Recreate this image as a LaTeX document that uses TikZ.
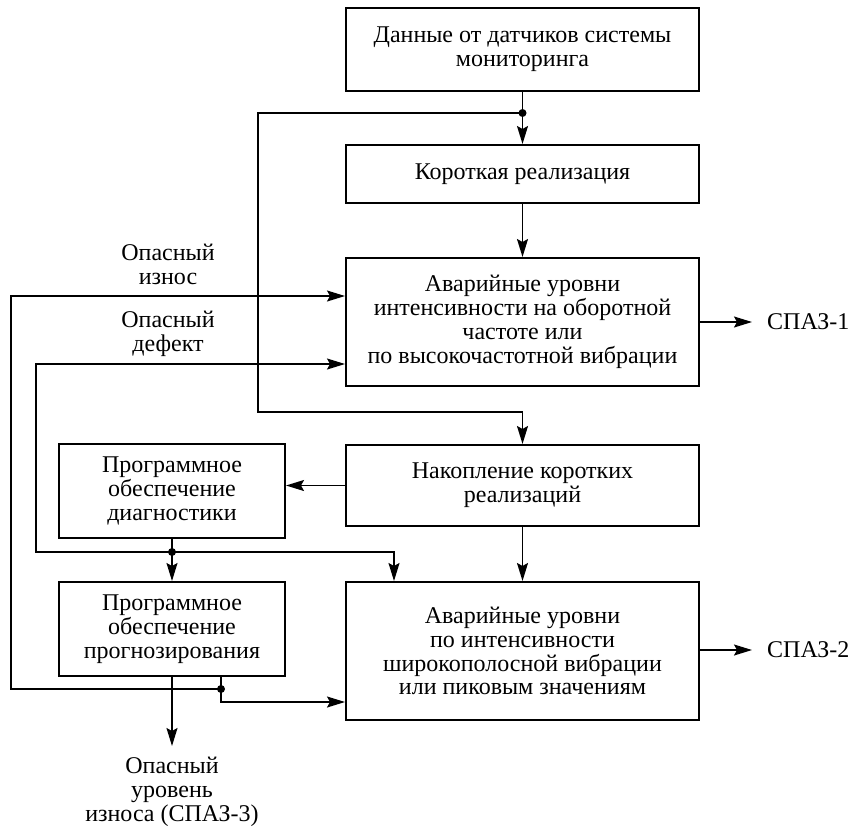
\documentclass[tikz,border=0pt]{standalone}
\usepackage{fontspec}
\setmainfont{Liberation Serif}
\usetikzlibrary{arrows.meta,calc}
\begin{document}
\begin{tikzpicture}[x=1pt,y=-1pt,
  box/.style={draw,line width=2pt,align=center,inner sep=0pt,font=\fontsize{24}{23.8}\selectfont},
  wide/.style={box,minimum width=353pt},
  narrow/.style={box,minimum width=226pt},
  lbl/.style={align=center,inner sep=0pt,font=\fontsize{24}{23.8}\selectfont},
  arr/.style={line width=1.5pt,-{Stealth[length=18pt,width=11pt,inset=3pt]}},
  dot/.style={fill,radius=4pt}]
\useasboundingbox (0,0) rectangle (851,828);
\node[wide,minimum height=83pt] (B1) at (522.5,49.5) {Данные от датчиков системы\\мониторинга};
\node[wide,minimum height=58pt] (B2) at (522.5,174) {Короткая реализация};
\node[wide,minimum height=128pt] (B3) at (522.5,322) {Аварийные уровни\\интенсивности на оборотной\\частоте или\\по высокочастотной вибрации};
\node[wide,minimum height=81pt] (B4) at (522.5,485.5) {Накопление коротких\\реализаций};
\node[narrow,minimum height=94pt] (B5) at (172,491) {Программное\\обеспечение\\диагностики};
\node[narrow,minimum height=94pt] (B6) at (172,629) {Программное\\обеспечение\\прогнозирования};
\node[wide,minimum height=138pt] (B7) at (522.5,651) {Аварийные уровни\\по интенсивности\\широкополосной вибрации\\или пиковым значениям};
\node[lbl] (L1) at (168,264) {Опасный\\износ};
\node[lbl] (L2) at (168,334) {Опасный\\дефект};
\node[lbl,anchor=west] (S1) at (767,322) {СПАЗ-1};
\node[lbl,anchor=west] (S2) at (767,650) {СПАЗ-2};
\node[lbl,anchor=north] (S3) at (172,757) {Опасный\\уровень\\износа (СПАЗ-3)};
% coordinates
\coordinate (j1) at (522.5,113);
\coordinate (c1) at (258,113);
\coordinate (c2) at (258,412);
\coordinate (j2) at (172,552);
\coordinate (d1) at (36,552);
\coordinate (d2) at (36,364);
\coordinate (d3) at (394,552);
\coordinate (j3) at (221,689);
\coordinate (w1) at (11,689);
\coordinate (w2) at (11,296);
\coordinate (w3) at (221,702);
\coordinate (o3) at (172,746);
\coordinate (s1) at (752,322);
\coordinate (s2) at (752,650);
% connectors
\draw[arr] (B1) -- (B2);
\draw[arr] (j1) -- (c1) -- (c2) -| (B4.north);
\draw[arr] (B2) -- (B3);
\draw[arr] (B3.east) -- (s1);
\draw[arr] (B4.west) -- (B5.east |- B4.west);
\draw[arr] (B4) -- (B7);
\draw[arr] (B7.east |- s2) -- (s2);
\draw[arr] (B5) -- (B6);
\draw[arr] (j2) -- (d1) -- (d2) -- (B3.west |- d2);
\draw[arr] (j2) -- (d3) -- (B7.north -| d3);
\draw[arr] (B6.south -| j3) -- (w3) -- (B7.west |- w3);
\draw[arr] (j3) -- (w1) -- (w2) -- (B3.west |- w2);
\draw[arr] (B6) -- (o3);
\fill[dot] (j1) circle;
\fill[dot] (j2) circle;
\fill[dot] (j3) circle;
\end{tikzpicture}
\end{document}
